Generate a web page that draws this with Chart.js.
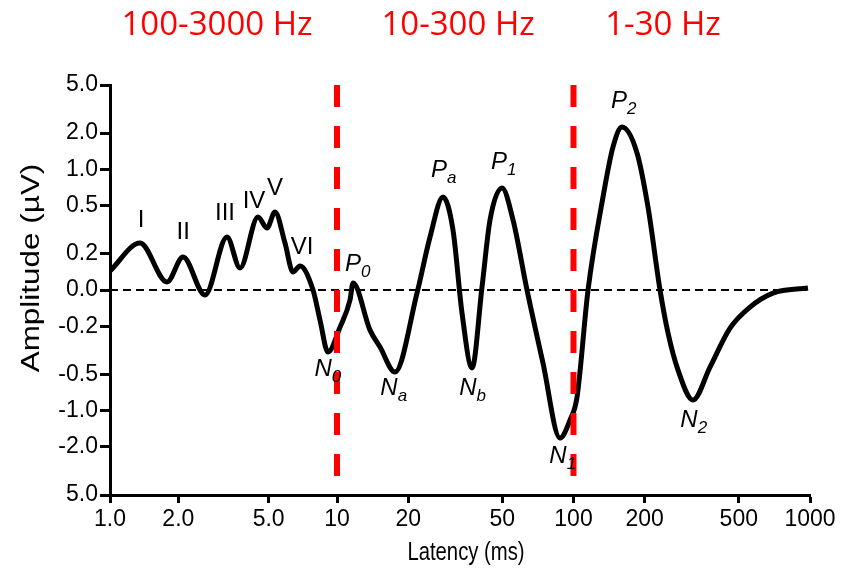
<!DOCTYPE html>
<html lang="en">
<head>
  <meta charset="UTF-8">
  <title>Auditory evoked potentials</title>
  <script src="https://cdn.jsdelivr.net/npm/chart.js"></script>
  <style>
    html, body { margin: 0; padding: 0; background: #fff; }
    #wrap { width: 844px; height: 576px; }
  </style>
</head>
<body>
  <div id="wrap"><canvas id="aep"></canvas></div>
  <script>
    // trace: latency in ms, amplitude in µV
    const latency = [1.00, 1.356, 1.783, 2.097, 2.621, 3.277, 3.739, 4.487, 4.916, 5.332,
      5.901, 6.400, 6.871, 7.841, 8.415, 9.129, 10.30, 11.35, 11.69, 13.79,
      15.20, 17.59, 21.79, 24.74, 28.07, 30.94, 33.78, 37.23, 41.04, 44.37,
      49.85, 55.50, 63.60, 74.30, 87.69, 96.65, 103.5, 115.2, 133.3, 146.9,
      160.4, 185.6, 206.5, 232.2, 251.0, 276.7, 320.1, 377.8, 459.0, 557.6,
      697.8, 980.6];
    const amplitude = [0.105, 0.245, 0.044, 0.182, -0.028, 0.275, 0.121, 0.403, 0.327, 0.443,
      0.245, 0.099, 0.132, 0.0, -0.165, -0.327, -0.203, -0.055, 0.039, -0.215,
      -0.297, -0.479, -0.017, 0.275, 0.590, 0.314, -0.127, -0.443, 0.017, 0.381,
      0.701, 0.381, 0.0, -0.403, -1.687, -1.197, -0.771, 0.0, 0.590, 1.534,
      2.247, 1.368, 0.488, 0.0, -0.227, -0.461, -0.817, -0.435, -0.207, -0.094,
      -0.017, 0.011];

    // filter band boundaries (ms) and band captions
    const bandEdges = [10, 100];
    const bandText = ['100-3000 Hz', '10-300 Hz', '1-30 Hz'];
    const bandTextX = [2.96, 32.5, 239];

    // wave labels: letter, subscript, position (ms, µV)
    const peakNames = ['I', 'II', 'III', 'IV', 'V', 'VI', 'N', 'P', 'N', 'P', 'N', 'P', 'N', 'P', 'N'];
    const peakSubs = ['', '', '', '', '', '', '0', '0', 'a', 'a', 'b', '1', '1', '2', '2'];
    const peakX = [1.37, 2.10, 3.21, 4.31, 5.33, 7.01, 9.04, 12.15, 17.25, 28.1, 37.2, 50.3, 89.4, 162, 320];
    const peakY = [0.38, 0.30, 0.435, 0.54, 0.70, 0.227, -0.452, 0.143, -0.65, 0.99, -0.65, 1.15, -2.38, 3.69, -1.2];

    const xTicks = [1, 2, 5, 10, 20, 50, 100, 200, 500, 1000];
    const xTickLabels = ['1.0', '2.0', '5.0', '10', '20', '50', '100', '200', '500', '1000'];
    const yTicks = [5, 2, 1, 0.5, 0.2, 0, -0.2, -0.5, -1, -2, -5];
    const yTickLabels = ['5.0', '2.0', '1.0', '0.5', '0.2', '0.0', '-0.2', '-0.5', '-1.0', '-2.0', '5.0'];

    const FONT = "'Liberation Sans', Arial, sans-serif";

    // latency axis: log, but the first decade is drawn a little narrower
    const DECADE = [227, 236.5, 236.5];
    function fwdX(v) {
      let l = Math.log10(v), u = 0;
      for (let d = 0; d < DECADE.length; d++) {
        const part = Math.min(Math.max(l - d, 0), 1);
        u += part * DECADE[d];
      }
      return u;
    }
    function invX(u) {
      let l = 0;
      for (let d = 0; d < DECADE.length; d++) {
        if (u <= DECADE[d]) return Math.pow(10, l + u / DECADE[d]);
        u -= DECADE[d];
        l += 1;
      }
      return Math.pow(10, l);
    }

    class DecadeLogScale extends Chart.LogarithmicScale {
      getPixelForValue(v) {
        const lo = fwdX(this.min), hi = fwdX(this.max);
        return this.getPixelForDecimal((fwdX(v) - lo) / (hi - lo));
      }
      getValueForPixel(p) {
        const lo = fwdX(this.min), hi = fwdX(this.max);
        return invX(lo + this.getDecimalForPixel(p) * (hi - lo));
      }
    }
    DecadeLogScale.id = 'decadelog';
    DecadeLogScale.defaults = Chart.LogarithmicScale.defaults;

    // amplitude axis: log on both sides of zero, linear inside |v| < 0.2
    const LIN = 0.2;
    const K = Math.log10(LIN / 0.1);
    function fwd(v) {
      const a = Math.abs(v);
      if (a <= LIN) return v * K / LIN;
      return Math.sign(v) * Math.log10(a / 0.1);
    }
    function inv(u) {
      const a = Math.abs(u);
      if (a <= K) return u * LIN / K;
      return Math.sign(u) * 0.1 * Math.pow(10, a);
    }

    class SymLogScale extends Chart.LinearScale {
      buildTicks() {
        return yTicks.map(v => ({ value: v }));
      }
      getPixelForValue(v) {
        const lo = fwd(this.min), hi = fwd(this.max);
        return this.getPixelForDecimal((fwd(v) - lo) / (hi - lo));
      }
      getValueForPixel(p) {
        const lo = fwd(this.min), hi = fwd(this.max);
        return inv(lo + this.getDecimalForPixel(p) * (hi - lo));
      }
    }
    SymLogScale.id = 'symlog';
    SymLogScale.defaults = Chart.LinearScale.defaults;
    Chart.register(DecadeLogScale, SymLogScale);

    const labelsPlugin = {
      id: 'labels',
      afterDatasetsDraw(chart) {
        const ctx = chart.ctx;
        const xs = chart.scales.x, ys = chart.scales.y;
        const area = chart.chartArea;
        ctx.save();

        // band captions above the plot
        ctx.fillStyle = 'rgb(255, 0, 0)';
        ctx.font = "33px 'Open Sans', sans-serif";
        ctx.textAlign = 'center';
        ctx.textBaseline = 'alphabetic';
        bandText.forEach((t, i) => ctx.fillText(t, xs.getPixelForValue(bandTextX[i]), 35));

        // wave names
        ctx.fillStyle = '#000';
        ctx.textBaseline = 'middle';
        peakNames.forEach((name, i) => {
          const px = xs.getPixelForValue(peakX[i]);
          const py = ys.getPixelForValue(peakY[i]);
          if (!peakSubs[i]) {
            ctx.font = '24px ' + FONT;
            ctx.textAlign = 'center';
            ctx.fillText(name, px, py);
            return;
          }
          ctx.font = 'italic 24px ' + FONT;
          const w = ctx.measureText(name).width;
          ctx.textAlign = 'left';
          ctx.fillText(name, px - w / 2 - 4, py);
          ctx.font = 'italic 17px ' + FONT;
          ctx.fillText(peakSubs[i], px + w / 2 - 4, py + 8);
        });

        // axis titles (the figure's lettering is narrow across, tall along y)
        ctx.font = '26px ' + FONT;
        ctx.textAlign = 'center';
        ctx.save();
        ctx.translate((area.left + area.right) / 2 + 6, 553);
        ctx.scale(0.78, 1);
        ctx.fillText('Latency (ms)', 0, 0);
        ctx.restore();
        ctx.save();
        ctx.translate(32, ys.getPixelForValue(0) - 22);
        ctx.rotate(-Math.PI / 2);
        ctx.scale(1.21, 1);
        ctx.fillText('Amplitude (µV)', 0, 0);
        ctx.restore();

        ctx.restore();
      }
    };

    const wave = latency.map((x, i) => ({ x: x, y: amplitude[i] }));

    new Chart(document.getElementById('aep'), {
      type: 'line',
      data: {
        datasets: [
          ...bandEdges.map(e => ({
            data: [{ x: e, y: 5 }, { x: e, y: -5 }],
            borderColor: 'rgb(255, 0, 0)',
            borderWidth: 6,
            borderDash: [22, 19],
            pointRadius: 0,
            order: 0
          })),
          {
            data: wave,
            borderColor: '#000',
            borderWidth: 5,
            pointRadius: 0,
            cubicInterpolationMode: 'monotone',
            order: 1
          },
          {
            data: [{ x: 1, y: 0 }, { x: 1000, y: 0 }],
            borderColor: '#000',
            borderWidth: 2,
            borderDash: [8, 5],
            pointRadius: 0,
            order: 2
          }
        ]
      },
      options: {
        responsive: true,
        maintainAspectRatio: false,
        animation: false,
        layout: { padding: { top: 85, right: 34, left: 0, bottom: 0 } },
        plugins: { legend: { display: false }, tooltip: { enabled: false } },
        scales: {
          x: {
            type: 'decadelog',
            min: 1,
            max: 1000,
            afterBuildTicks: s => { s.ticks = xTicks.map(v => ({ value: v })); },
            afterFit: s => { s.height = 81; },
            border: { display: true, color: '#000', width: 3 },
            grid: { drawOnChartArea: false, tickLength: 8, tickColor: '#000', tickWidth: 3 },
            ticks: {
              autoSkip: false,
              maxRotation: 0,
              padding: 3,
              color: '#000',
              font: { family: FONT, size: 23 },
              callback: (v, i) => xTickLabels[i]
            }
          },
          y: {
            type: 'symlog',
            min: -5,
            max: 5,
            afterFit: s => { s.width = 110; },
            border: { display: true, color: '#000', width: 3 },
            grid: { drawOnChartArea: false, tickLength: 10, tickColor: '#000', tickWidth: 3 },
            ticks: {
              autoSkip: false,
              padding: 2,
              color: '#000',
              font: { family: FONT, size: 23 },
              callback: (v, i) => yTickLabels[i]
            }
          }
        }
      },
      plugins: [labelsPlugin]
    });
  </script>
</body>
</html>
